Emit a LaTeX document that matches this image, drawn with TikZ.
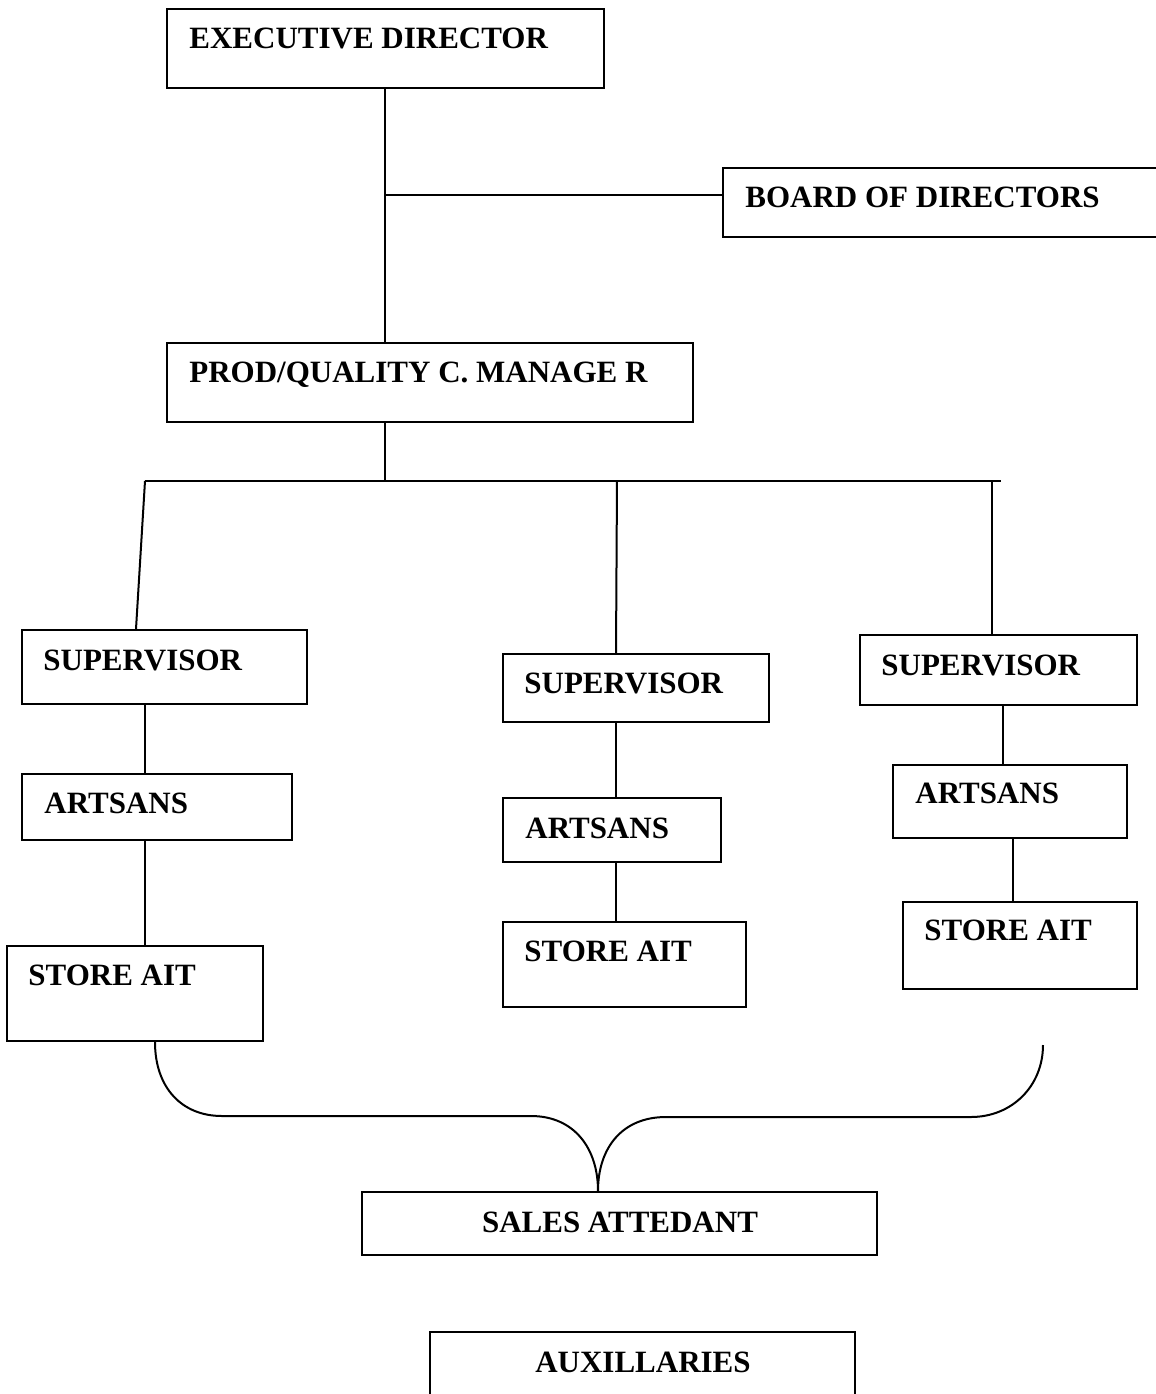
\documentclass[tikz,border=0pt]{standalone}
\usepackage{fontspec}
\setmainfont{Liberation Serif}
\begin{document}
\begin{tikzpicture}[x=0.5pt,y=-0.5pt,
  boxst/.style={draw, line width=1pt, inner sep=0pt, rectangle},
  txt/.style={inner sep=0pt, font=\fontsize{15.5}{18}\selectfont\bfseries},
  conn/.style={line width=1pt}]
\useasboundingbox (0,0) rectangle (1156,1394);
\newcommand\obox[5]{\node[boxst, minimum width={(#4-#2)*0.5pt}, minimum height={(#5-#3)*0.5pt}] (#1) at ({(#2+#4)/2},{(#3+#5)/2}) {};}
% boxes
\obox{exec}{167}{9}{604}{88}
\obox{board}{723}{168}{1170}{237}
\obox{prod}{167}{343}{693}{422}
\obox{supA}{22}{630}{307}{704}
\obox{supB}{503}{654}{769}{722}
\obox{supC}{860}{635}{1137}{705}
\obox{artA}{22}{774}{292}{840}
\obox{artB}{503}{798}{721}{862}
\obox{artC}{893}{765}{1127}{838}
\obox{stoA}{7}{946}{263}{1041}
\obox{stoB}{503}{922}{746}{1007}
\obox{stoC}{903}{902}{1137}{989}
\obox{sales}{362}{1192}{877}{1255}
\obox{aux}{430}{1332}{855}{1410}
% texts
\node[txt, anchor=base west] (texec) at (189,48) {EXECUTIVE DIRECTOR};
\node[txt, anchor=base west] (tboard) at (745,207) {BOARD OF DIRECTORS};
\node[txt, anchor=base west] (tprod) at (189,382) {PROD/QUALITY C. MANAGE R};
\node[txt, anchor=base west] (tsupA) at (43,670) {SUPERVISOR};
\node[txt, anchor=base west] (tsupB) at (524,693) {SUPERVISOR};
\node[txt, anchor=base west] (tsupC) at (881,675) {SUPERVISOR};
\node[txt, anchor=base west] (tartA) at (44,813) {ARTSANS};
\node[txt, anchor=base west] (tartB) at (525,838) {ARTSANS};
\node[txt, anchor=base west] (tartC) at (915,803) {ARTSANS};
\node[txt, anchor=base west] (tstoA) at (28,985) {STORE AIT};
\node[txt, anchor=base west] (tstoB) at (524,961) {STORE AIT};
\node[txt, anchor=base west] (tstoC) at (924,940) {STORE AIT};
\node[txt, anchor=base] (tsales) at (620,1232) {SALES ATTEDANT};
\node[txt, anchor=base] (taux) at (643,1372) {AUXILLARIES};
% junction coordinates
\coordinate (j1) at (385,195);
\coordinate (j2) at (385,481);
\coordinate (hl) at (145,481);
\coordinate (hm) at (617,481);
\coordinate (hr) at (992,481);
\coordinate (he) at (1001,481);
% connectors
\draw[conn] (exec.south -| j1) -- (prod.north -| j1);
\draw[conn] (j1) -- (board.west |- j1);
\draw[conn] (prod.south -| j2) -- (j2);
\draw[conn] (hl) -- (he);
\draw[conn] (hl) -- (136,630 |- supA.north);
\draw[conn] (hm) -- (616,654 |- supB.north);
\draw[conn] (hr) -- (hr |- supC.north);
\draw[conn] (supA.south -| hl) -- (artA.north -| hl);
\draw[conn] (artA.south -| hl) -- (stoA.north -| hl);
\draw[conn] (supB.south -| 616,0) -- (artB.north -| 616,0);
\draw[conn] (artB.south -| 616,0) -- (stoB.north -| 616,0);
\draw[conn] (supC.south -| 1003,0) -- (artC.north -| 1003,0);
\draw[conn] (artC.south -| 1013,0) -- (stoC.north -| 1013,0);
% brace
\coordinate (tip) at (sales.north -| 598,0);
\draw[conn] (stoA.south -| 155,0) .. controls (155,1088) and (182,1116) .. (222,1116)
  -- (531,1116) .. controls (574,1116) and (598,1148) .. (tip);
\draw[conn] (1043,1045) .. controls (1043,1086) and (1012,1117) .. (971,1117)
  -- (666,1117) .. controls (622,1117) and (598,1148) .. (tip);
\end{tikzpicture}
\end{document}
